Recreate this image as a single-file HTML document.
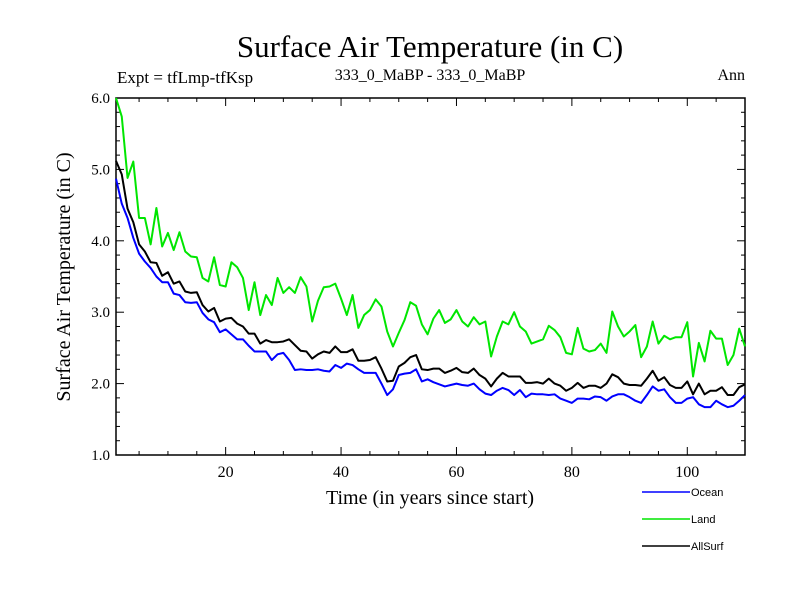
<!DOCTYPE html>
<html><head><meta charset="utf-8"><style>
body{margin:0;background:#fff;width:800px;height:600px;overflow:hidden}
svg text{font-family:"Liberation Serif",serif}
</style></head><body>
<svg id="chart" width="800" height="600" xmlns="http://www.w3.org/2000/svg">
<text x="430" y="57" text-anchor="middle" font-size="31">Surface Air Temperature (in C)</text>
<text x="117" y="83" font-size="17">Expt = tfLmp-tfKsp</text>
<text x="430" y="80" text-anchor="middle" font-size="16">333_0_MaBP - 333_0_MaBP</text>
<text x="745" y="80" text-anchor="end" font-size="16">Ann</text>
<text transform="translate(70,277) rotate(-90)" text-anchor="middle" font-size="20">Surface Air Temperature (in C)</text>
<text x="430" y="504" text-anchor="middle" font-size="20">Time (in years since start)</text>
<g id="axes"></g>
<g id="series"></g>
<g id="legend"></g>
</svg>
<script>
const years = Array.from({length:110},(_,i)=>i+1);
const ocean = [4.87,4.52,4.32,4.04,3.82,3.71,3.62,3.50,3.42,3.42,3.26,3.24,3.14,3.13,3.14,2.99,2.90,2.86,2.72,2.76,2.69,2.62,2.62,2.53,2.45,2.45,2.45,2.33,2.41,2.43,2.33,2.19,2.20,2.19,2.19,2.20,2.18,2.17,
2.26,2.22,2.28,2.26,2.20,2.15,2.15,2.15,2.00,1.84,1.92,2.12,2.14,2.15,2.20,2.03,2.06,2.02,1.99,1.96,1.98,2.00,1.98,1.97,2.00,1.92,1.86,1.84,1.90,1.94,1.91,1.84,1.91,1.81,1.86,1.85,
1.85,1.84,1.85,1.79,1.76,1.73,1.79,1.79,1.78,1.82,1.81,1.76,1.82,1.85,1.85,1.81,1.76,1.73,1.84,1.96,1.90,1.92,1.81,1.73,1.73,1.79,1.81,1.71,1.67,1.67,1.76,1.71,1.67,1.69,1.76,1.84];
const land = [6.00,5.74,4.88,5.11,4.32,4.32,3.95,4.46,3.92,4.11,3.87,4.12,3.85,3.78,3.77,3.48,3.43,3.77,3.38,3.36,3.70,3.63,3.48,3.03,3.42,2.96,3.24,3.10,3.48,3.27,3.35,3.27,3.49,3.36,2.87,3.16,3.35,3.36,
3.40,3.19,2.96,3.24,2.78,2.96,3.03,3.18,3.08,2.73,2.52,2.71,2.89,3.14,3.09,2.83,2.69,2.91,3.03,2.85,2.90,3.03,2.87,2.80,2.93,2.83,2.87,2.38,2.66,2.87,2.83,3.00,2.80,2.73,2.56,2.59,
2.62,2.81,2.75,2.65,2.43,2.41,2.78,2.49,2.45,2.47,2.56,2.43,3.01,2.80,2.66,2.73,2.82,2.37,2.52,2.87,2.56,2.67,2.62,2.65,2.65,2.86,2.10,2.57,2.31,2.74,2.63,2.63,2.26,2.40,2.77,2.52];
const allsurf = [5.12,4.93,4.45,4.26,3.95,3.85,3.70,3.69,3.51,3.56,3.40,3.43,3.29,3.27,3.28,3.10,3.01,3.06,2.87,2.91,2.92,2.84,2.80,2.70,2.70,2.56,2.61,2.58,2.58,2.59,2.62,2.54,2.46,2.45,2.35,2.41,2.45,2.43,
2.52,2.44,2.44,2.48,2.32,2.32,2.33,2.37,2.21,2.03,2.04,2.24,2.29,2.37,2.40,2.20,2.19,2.21,2.21,2.15,2.18,2.22,2.16,2.15,2.21,2.12,2.07,1.96,2.07,2.15,2.10,2.10,2.10,2.01,2.01,2.02,
2.00,2.07,2.00,1.97,1.90,1.94,2.01,1.94,1.97,1.97,1.94,2.00,2.13,2.09,2.00,1.98,1.98,1.97,2.07,2.18,2.04,2.09,1.98,1.94,1.94,2.03,1.85,2.00,1.85,1.90,1.90,1.95,1.84,1.84,1.95,1.99];
const seriesNames = ["Ocean","Land","AllSurf"];
const seriesColors = ["#0000ff","#00e600","#000000"];
const xTickLabels = [20,40,60,80,100];
const yTickLabels = ["1.0","2.0","3.0","4.0","5.0","6.0"];

const L=116,R=745,T=98,B=455,X0=1,X1=110,Y0=1,Y1=6;
const xs=v=>L+(v-X0)/(X1-X0)*(R-L);
const ys=v=>B-(v-Y0)/(Y1-Y0)*(B-T);
const NS="http://www.w3.org/2000/svg";
function mk(tag,attrs,parent){const e=document.createElementNS(NS,tag);for(const k in attrs)e.setAttribute(k,attrs[k]);parent.appendChild(e);return e;}
const ax=document.getElementById('axes');
const frame=mk('rect',{x:L,y:T,width:R-L,height:B-T,fill:'none',stroke:'#000','stroke-width':1.5},ax);


// x ticks
for(let v=5;v<=X1;v+=5){const major=v%20===0;const len=major?8:4;const x=xs(v);
 mk('line',{x1:x,x2:x,y1:B,y2:B-len,stroke:'#000','stroke-width':1},ax);
 mk('line',{x1:x,x2:x,y1:T,y2:T+len,stroke:'#000','stroke-width':1},ax);}
xTickLabels.forEach(v=>{const t=mk('text',{x:xs(v),y:B+22,'text-anchor':'middle','font-size':16},ax);t.textContent=v;
 
 });
// y ticks
for(let i=0;i<=25;i++){const v=Y0+i*0.2;const major=i%5===0;const len=major?8:4;const y=ys(v);
 mk('line',{x1:L,x2:L+len,y1:y,y2:y,stroke:'#000','stroke-width':1},ax);
 mk('line',{x1:R,x2:R-len,y1:y,y2:y,stroke:'#000','stroke-width':1},ax);}
yTickLabels.forEach(s=>{const t=mk('text',{x:L-6,y:ys(parseFloat(s))+5,'text-anchor':'end','font-size':15},ax);t.textContent=s;
 
 });
// series
const sg=document.getElementById('series');
[ocean,land,allsurf].forEach((d,k)=>{const p=mk('polyline',{points:d.map((v,i)=>xs(years[i])+','+ys(v)).join(' '),fill:'none',stroke:seriesColors[k],'stroke-width':2,'stroke-linejoin':'round'},sg);
 
 });
// legend
const lg=document.getElementById('legend');
seriesNames.forEach((n,k)=>{const y=492+k*27;
 const g=mk('g',{},lg);
 
 
 mk('line',{x1:642,x2:690,y1:y,y2:y,stroke:seriesColors[k],'stroke-width':1.5},g);
 const t=mk('text',{x:691,y:y+4,'font-size':11,style:'font-family:"Liberation Sans",sans-serif'},g);t.textContent=n;});
</script>
</body></html>
